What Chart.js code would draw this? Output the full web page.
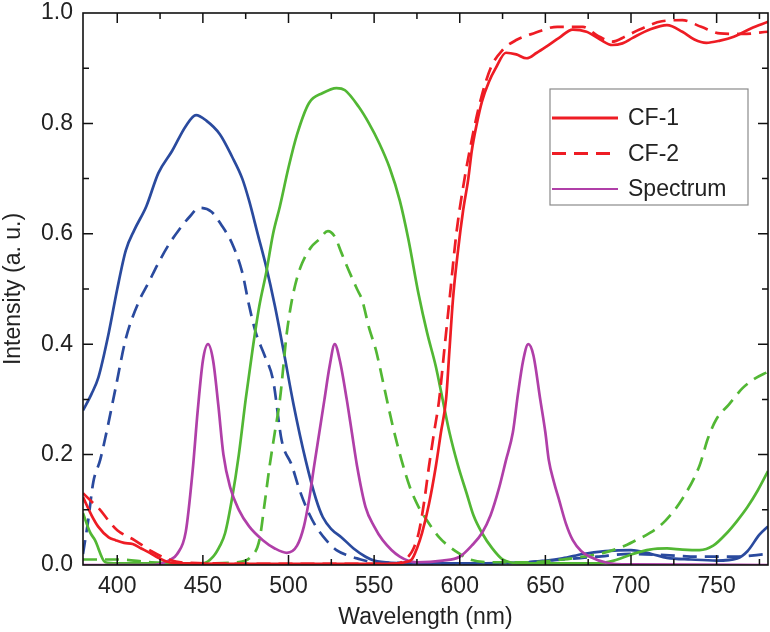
<!DOCTYPE html>
<html lang="en">
<head>
    <meta charset="UTF-8">
    <title>Colour filter transmission and spectrum</title>
    <script src="https://cdn.jsdelivr.net/npm/chart.js"></script>
    <style>
        html, body { margin: 0; padding: 0; background: #fff; }
        #wrap { width: 770px; height: 632px; }
    </style>
</head>
<body>
    <div id="wrap"><canvas id="chart" width="770" height="632"></canvas></div>

    <script>
        // x range and ticks
        const xMin = 380, xMax = 780;
        const xMajor = [400, 450, 500, 550, 600, 650, 700, 750];
        const yMajor = [0, 0.2, 0.4, 0.6, 0.8, 1.0];

        // blue filter, CF-1 (solid)
        const blue1Wl = [380, 385, 389, 395, 400, 405, 410, 417, 424, 432, 440, 446, 452, 460, 467, 473, 477, 482, 487, 492, 497, 503, 510, 516, 520, 525, 531, 538, 545, 550, 560, 580, 600, 620, 640, 660, 672, 685, 700, 712, 721, 735, 750, 762, 768, 775, 780];
        const blue1Val = [0.28, 0.31, 0.34, 0.42, 0.50, 0.57, 0.607, 0.65, 0.71, 0.75, 0.795, 0.815, 0.805, 0.78, 0.74, 0.70, 0.66, 0.60, 0.54, 0.47, 0.39, 0.29, 0.19, 0.12, 0.087, 0.065, 0.05, 0.03, 0.015, 0.008, 0.004, 0.003, 0.003, 0.003, 0.005, 0.012, 0.02, 0.025, 0.027, 0.02, 0.013, 0.01, 0.008, 0.012, 0.025, 0.055, 0.07];

        // blue filter, CF-2 (dashed)
        const blue2Wl = [380, 383, 386, 390, 393, 399, 405, 413, 418, 424, 430, 436, 442, 448, 455, 461, 467, 473, 477, 481, 486, 491, 496, 502, 506, 511, 516, 522, 528, 535, 540, 550, 600, 640, 660, 680, 700, 720, 740, 760, 780];
        const blue2Val = [0.02, 0.08, 0.15, 0.19, 0.23, 0.32, 0.41, 0.48, 0.51, 0.547, 0.58, 0.607, 0.63, 0.647, 0.64, 0.615, 0.583, 0.53, 0.47, 0.42, 0.38, 0.335, 0.226, 0.18, 0.14, 0.10, 0.07, 0.045, 0.027, 0.017, 0.012, 0.005, 0.003, 0.005, 0.01, 0.015, 0.02, 0.018, 0.015, 0.015, 0.02];

        // green filter, CF-1 (solid)
        const green1Wl = [380, 384, 387, 393, 400, 450, 456, 460, 463, 467, 471, 475, 479, 483, 487, 491, 495, 500, 505, 512, 520, 528, 533, 541, 547, 553, 559, 565, 570, 576, 581, 586, 590, 594, 599, 604, 608, 613, 619, 625, 635, 680, 690, 701, 711, 721, 730, 740, 748, 756, 762, 768, 774, 780];
        const green1Val = [0.094, 0.06, 0.045, 0.005, 0.003, 0.003, 0.015, 0.035, 0.058, 0.12, 0.2, 0.3, 0.39, 0.47, 0.53, 0.6, 0.65, 0.72, 0.78, 0.837, 0.855, 0.864, 0.86, 0.83, 0.8, 0.764, 0.72, 0.66, 0.59, 0.49, 0.42, 0.36, 0.3, 0.24, 0.18, 0.13, 0.09, 0.058, 0.03, 0.01, 0.003, 0.003, 0.008, 0.02, 0.028, 0.03, 0.028, 0.027, 0.035, 0.058, 0.08, 0.105, 0.135, 0.17];

        // green filter, CF-2 (dashed)
        const green2Wl = [380, 400, 420, 450, 470, 478, 483, 486, 489, 492, 495, 499, 502, 505, 508, 513, 518, 523, 527, 531, 535, 540, 543, 547, 551, 556, 561, 566, 571, 576, 581, 588, 594, 600, 606, 620, 640, 660, 672, 684, 695, 703, 711, 720, 730, 740, 745, 750, 757, 765, 772, 780];
        const green2Val = [0.01, 0.01, 0.005, 0.003, 0.005, 0.015, 0.045, 0.11, 0.18, 0.24, 0.3, 0.42, 0.48, 0.52, 0.547, 0.575, 0.59, 0.605, 0.595, 0.565, 0.535, 0.5, 0.48, 0.43, 0.39, 0.32, 0.25, 0.19, 0.14, 0.105, 0.08, 0.05, 0.033, 0.02, 0.01, 0.005, 0.005, 0.01, 0.015, 0.022, 0.033, 0.045, 0.058, 0.08, 0.12, 0.18, 0.23, 0.265, 0.29, 0.32, 0.337, 0.35];

        // red filter, CF-1 (solid)
        const red1Wl = [380, 385, 389, 395, 399, 404, 409, 414, 419, 424, 429, 440, 500, 560, 568, 572, 575, 578, 582, 586, 589, 592, 594, 596, 599, 602, 605, 607, 610, 613, 617, 621, 627, 633, 639, 645, 651, 658, 666, 674, 682, 689, 695, 701, 711, 721, 730, 737, 744, 752, 760, 770, 780];
        const red1Val = [0.123, 0.09, 0.069, 0.05, 0.045, 0.04, 0.038, 0.03, 0.022, 0.013, 0.006, 0.003, 0.002, 0.002, 0.005, 0.01, 0.03, 0.058, 0.11, 0.178, 0.24, 0.3, 0.39, 0.48, 0.57, 0.643, 0.7, 0.75, 0.8, 0.84, 0.875, 0.9, 0.928, 0.925, 0.918, 0.928, 0.94, 0.955, 0.97, 0.966, 0.952, 0.942, 0.945, 0.955, 0.97, 0.978, 0.966, 0.952, 0.946, 0.95, 0.957, 0.972, 0.984];

        // red filter, CF-2 (dashed)
        const red2Wl = [380, 385, 390, 395, 400, 410, 420, 430, 440, 500, 560, 566, 570, 573, 576, 579, 582, 585, 588, 591, 594, 598, 602, 607, 612, 618, 625, 633, 643, 657, 672, 680, 689, 697, 705, 718, 730, 741, 752, 765, 780];
        const red2Val = [0.13, 0.115, 0.10, 0.08, 0.063, 0.045, 0.025, 0.01, 0.004, 0.002, 0.002, 0.005, 0.015, 0.03, 0.058, 0.11, 0.178, 0.24, 0.3, 0.39, 0.48, 0.6, 0.685, 0.77, 0.84, 0.9, 0.933, 0.951, 0.963, 0.975, 0.975, 0.96, 0.948, 0.958, 0.97, 0.985, 0.987, 0.975, 0.963, 0.962, 0.966];

        // emission spectrum
        const specWl = [380, 420, 430, 435, 440, 444, 447, 450, 453, 456, 459, 462, 466, 471, 477, 485, 492, 499, 505, 509, 512, 515, 518, 521, 524, 527, 530, 534, 537, 540, 545, 550, 555, 565, 575, 590, 600, 607, 613, 618, 623, 627, 631, 634, 637, 640, 643, 647, 650, 652, 655, 658, 662, 666, 671, 676, 686, 700, 780];
        const specVal = [0, 0, 0.008, 0.02, 0.06, 0.17, 0.28, 0.37, 0.40, 0.37, 0.29, 0.2, 0.14, 0.1, 0.07, 0.045, 0.03, 0.022, 0.035, 0.07, 0.118, 0.18, 0.24, 0.3, 0.36, 0.40, 0.37, 0.3, 0.24, 0.18, 0.105, 0.07, 0.045, 0.015, 0.005, 0.008, 0.015, 0.035, 0.058, 0.09, 0.14, 0.19, 0.24, 0.31, 0.37, 0.40, 0.38, 0.3, 0.24, 0.19, 0.15, 0.118, 0.075, 0.045, 0.025, 0.015, 0.004, 0.001, 0];

        const BLUE = '#2a4a9e', GREEN = '#52b734', RED = '#ee1c24', MAGENTA = '#b03fa8';
        const DASH = [14, 8];
        const FONT = 'Liberation Sans, Arial, Helvetica, sans-serif';
        const FSIZE = 23;

        function pts(wl, val) {
            return wl.map((x, i) => ({ x: x, y: val[i] }));
        }

        function line(label, wl, val, color, dashed) {
            return {
                label: label,
                data: pts(wl, val),
                borderColor: color,
                backgroundColor: color,
                borderWidth: 2.7,
                borderDash: dashed ? DASH : [],
                pointRadius: 0,
                fill: false,
                cubicInterpolationMode: 'monotone'
            };
        }

        const blue1 = line('Blue CF-1', blue1Wl, blue1Val, BLUE, false);
        const blue2 = line('Blue CF-2', blue2Wl, blue2Val, BLUE, true);
        const green1 = line('Green CF-1', green1Wl, green1Val, GREEN, false);
        const green2 = line('Green CF-2', green2Wl, green2Val, GREEN, true);
        const spec = line('Spectrum', specWl, specVal, MAGENTA, false);
        const red1 = line('CF-1', red1Wl, red1Val, RED, false);
        const red2 = line('CF-2', red2Wl, red2Val, RED, true);
        const legendItems = [red1, red2, spec];

        // frame + inward ticks on all four sides, and the boxed legend
        const framePlugin = {
            id: 'frame',
            afterDatasetsDraw(chart) {
                const { ctx, chartArea: a, scales } = chart;
                const xs = scales.x, ys = scales.y;
                ctx.save();
                ctx.strokeStyle = '#111';
                ctx.lineWidth = 1.6;
                ctx.strokeRect(a.left, a.top, a.right - a.left, a.bottom - a.top);

                ctx.lineWidth = 1.5;
                ctx.beginPath();
                for (let v = 400; v < xMax; v += 25) {
                    const len = xMajor.includes(v) ? 10 : 6;
                    const px = xs.getPixelForValue(v);
                    ctx.moveTo(px, a.bottom); ctx.lineTo(px, a.bottom - len);
                    ctx.moveTo(px, a.top); ctx.lineTo(px, a.top + len);
                }
                for (let k = 1; k < 10; k++) {
                    const len = k % 2 === 0 ? 10 : 6;
                    const py = ys.getPixelForValue(k / 10);
                    ctx.moveTo(a.left, py); ctx.lineTo(a.left + len, py);
                    ctx.moveTo(a.right, py); ctx.lineTo(a.right - len, py);
                }
                ctx.stroke();

                // legend box
                const bx = a.right - 218, by = a.top + 76, bw = 198, bh = 116;
                ctx.fillStyle = '#fff';
                ctx.fillRect(bx, by, bw, bh);
                ctx.strokeStyle = '#8a8a8a';
                ctx.lineWidth = 1.2;
                ctx.strokeRect(bx, by, bw, bh);
                legendItems.forEach((d, i) => {
                    const y = by + 29 + i * 35.5;
                    ctx.strokeStyle = d.borderColor;
                    ctx.lineWidth = d === spec ? 2 : 2.8;
                    ctx.setLineDash(d.borderDash);
                    ctx.beginPath();
                    ctx.moveTo(bx + 2, y); ctx.lineTo(bx + 68, y);
                    ctx.stroke();
                    ctx.setLineDash([]);
                    ctx.fillStyle = '#222';
                    ctx.font = FSIZE + 'px ' + FONT;
                    ctx.textBaseline = 'middle';
                    ctx.textAlign = 'left';
                    ctx.fillText(d.label, bx + 78, y + 1);
                });
                ctx.restore();
            }
        };

        new Chart(document.getElementById('chart'), {
            type: 'line',
            data: { datasets: [red2, red1, spec, green2, green1, blue2, blue1] },
            options: {
                responsive: false,
                animation: false,
                layout: { padding: { top: 13, right: 2, left: 0, bottom: 0 } },
                plugins: { legend: { display: false }, tooltip: { enabled: false } },
                scales: {
                    x: {
                        type: 'linear',
                        min: xMin,
                        max: xMax,
                        afterBuildTicks: s => { s.ticks = xMajor.map(v => ({ value: v })); },
                        afterFit: s => { s.height = 67; s.paddingLeft = 0; s.paddingRight = 0; },
                        grid: { display: false, drawTicks: false },
                        border: { display: false },
                        ticks: { color: '#222', padding: 8, font: { size: FSIZE, family: FONT } },
                        title: { display: true, text: 'Wavelength (nm)', color: '#222', padding: { top: 0, bottom: 1 }, font: { size: FSIZE, family: FONT } }
                    },
                    y: {
                        min: 0,
                        max: 1,
                        afterBuildTicks: s => { s.ticks = yMajor.map(v => ({ value: v })); },
                        afterFit: s => { s.width = 83; s.paddingTop = 0; s.paddingBottom = 0; },
                        grid: { display: false, drawTicks: false },
                        border: { display: false },
                        ticks: { color: '#222', padding: 10, font: { size: FSIZE, family: FONT }, callback: v => v.toFixed(1) },
                        title: { display: true, text: 'Intensity (a. u.)', color: '#222', padding: { top: 0, bottom: 0 }, font: { size: FSIZE, family: FONT } }
                    }
                }
            },
            plugins: [framePlugin]
        });
    </script>
</body>
</html>
